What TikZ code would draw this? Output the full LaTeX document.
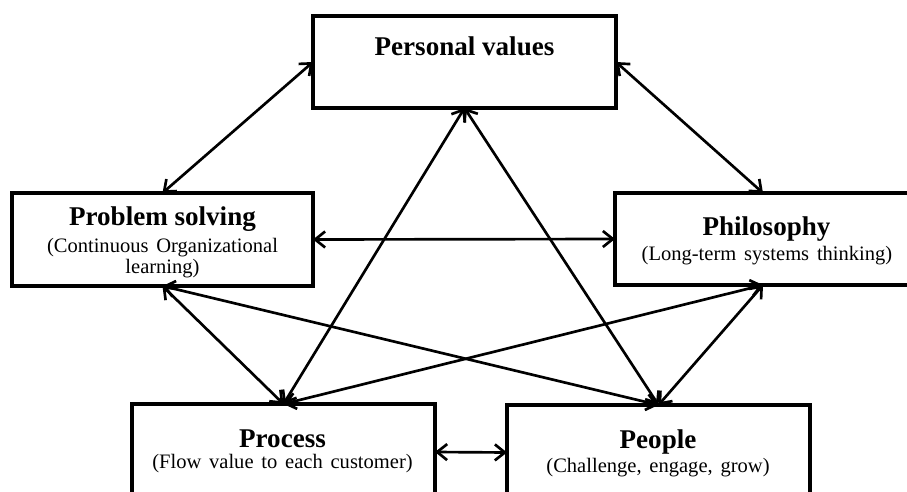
\documentclass[tikz,border=0pt]{standalone}
\usepackage{fontspec}
\setmainfont{Liberation Serif}
\usetikzlibrary{arrows.meta}
\newcommand\mywidesp{\spaceskip=0.38em plus 0.1em\relax}
\begin{document}
\begin{tikzpicture}[x=0.75pt,y=-0.75pt,
  box/.style={draw,line width=2.5pt,inner sep=0pt,outer sep=0pt},
  ttl/.style={anchor=base,inner sep=0pt,font=\fontsize{20.3pt}{24pt}\selectfont\bfseries},
  sub/.style={anchor=base,inner sep=0pt,font=\fontsize{15.4pt}{18pt}\selectfont,execute at begin node=\mywidesp},
  conn/.style={line width=2pt,{Straight Barb[length=7.5pt,width=12pt]}-{Straight Barb[length=7.5pt,width=12pt]}}]
\useasboundingbox (0,0) rectangle (907,492);
\clip (0,0) rectangle (907,492);
% boxes
\node[box,minimum width=227.25pt,minimum height=69pt] (pv) at (464.5,62) {};
\node[box,minimum width=225.75pt,minimum height=69.75pt] (ps) at (162.5,239.5) {};
\node[box,minimum width=222pt,minimum height=69pt] (ph) at (763,239) {};
\node[box,minimum width=227.25pt,minimum height=72pt] (pr) at (283.5,452) {};
\node[box,minimum width=227.25pt,minimum height=71.25pt] (pe) at (658.5,452.5) {};
% texts
\node[ttl] (pvt) at (464.5,56) {Personal values};
\node[ttl] (pst) at (162.5,225) {Problem solving};
\node[sub] (pss1) at (162.5,252) {(Continuous Organizational};
\node[sub] (pss2) at (162.5,273) {learning)};
\node[ttl] (pht) at (766.5,235) {Philosophy};
\node[sub] (phs) at (767,260) {(Long-term systems thinking)};
\node[ttl] (prt) at (282.5,447) {Process};
\node[sub] (prs) at (282.5,468) {(Flow value to each customer)};
\node[ttl] (pet) at (658,448) {People};
\node[sub] (pes) at (658,472) {(Challenge, engage, grow)};
% connectors
\draw[conn] (pv.west) -- (ps.north);
\draw[conn] (pv.east) -- (ph.north);
\draw[conn] (ps.east) -- (ph.west);
\draw[conn] (pr.east) -- (pe.west);
\draw[conn] (pv.south) -- (pr.north);
\draw[conn] (pv.south) -- (pe.north);
\draw[conn] (ps.south) -- (pr.north);
\draw[conn] (ps.south) -- (pe.north);
\draw[conn] (ph.south) -- (pr.north);
\draw[conn] (ph.south) -- (pe.north);
\end{tikzpicture}
\end{document}
